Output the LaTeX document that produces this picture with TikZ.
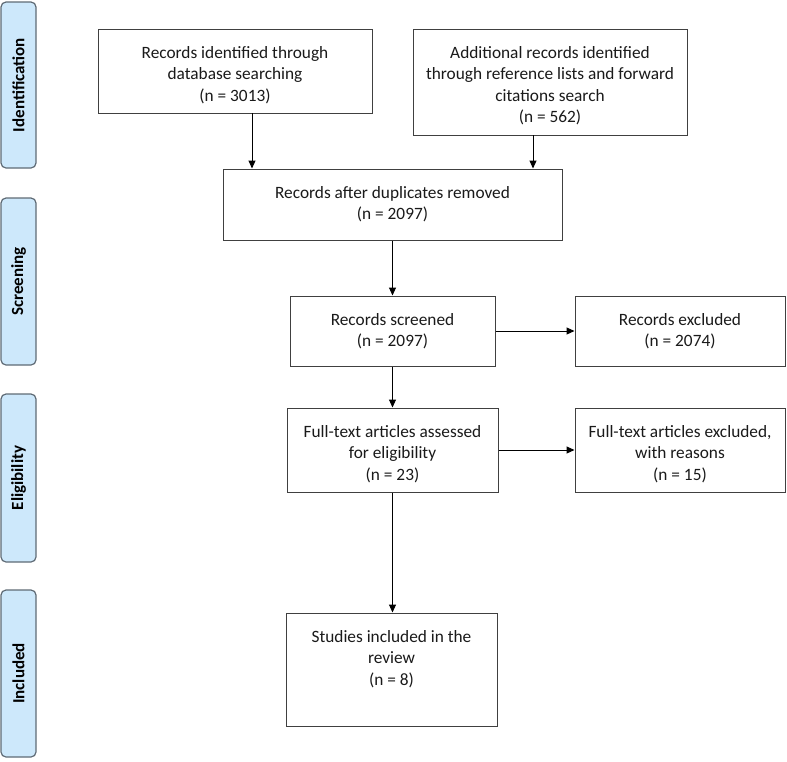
\documentclass[tikz,border=0pt]{standalone}
\usepackage{fontspec}
\setmainfont{Carlito}
\usetikzlibrary{arrows.meta}
\definecolor{boxline}{HTML}{404040}
\definecolor{txt}{HTML}{1A1A1A}
\definecolor{sidefill}{HTML}{CDE8FB}
\definecolor{sideline}{HTML}{5F6B75}
% top-aligned text block: width, box height, text
\newcommand\flowtext[3]{\parbox[c][\dimexpr#2-29.4pt\relax][t]{\dimexpr#1-4pt\relax}{\centering\strut #3}}
\tikzset{
  flowbox/.style={draw=boxline, line width=1pt, fill=white, rectangle,
    text=txt, inner sep=0pt, font=\fontsize{17.3}{21.3}\selectfont},
  sidebox/.style={draw=sideline, line width=1.2pt, fill=sidefill, rounded corners=5pt,
    rotate=90, inner sep=0pt, text=black,
    font=\fontsize{17}{20}\selectfont\bfseries},
  arr/.style={-{Triangle[length=8pt,width=7pt]}, line width=1pt, black}
}
\begin{document}
\begin{tikzpicture}[x=1pt,y=-1pt]
\useasboundingbox (0,0) rectangle (787,761);
% side labels
\node[sidebox, minimum width=166pt, minimum height=35pt] (s1) at (18.5,85) {Identification};
\node[sidebox, minimum width=167pt, minimum height=35pt] (s2) at (18.5,281.5) {Screening};
\node[sidebox, minimum width=168pt, minimum height=35pt] (s3) at (18.5,478) {Eligibility};
\node[sidebox, minimum width=167pt, minimum height=35pt] (s4) at (18.5,673.5) {Included};
% flow boxes
\node[flowbox, minimum width=274pt, minimum height=84pt] (A) at (235,71)
  {\flowtext{274pt}{84pt}{Records identified through\\database searching\\(n = 3013)}};
\node[flowbox, minimum width=274pt, minimum height=106pt] (B) at (550,82)
  {\flowtext{274pt}{106pt}{Additional records identified\\through reference lists and forward\\citations search\\(n = 562)}};
\node[flowbox, minimum width=339pt, minimum height=71pt] (C) at (392.5,204.5)
  {\flowtext{339pt}{71pt}{Records after duplicates removed\\(n = 2097)}};
\node[flowbox, minimum width=205pt, minimum height=70pt] (D) at (392.5,331)
  {\flowtext{205pt}{70pt}{Records screened\\(n = 2097)}};
\node[flowbox, minimum width=210pt, minimum height=70pt] (E) at (680,331)
  {\flowtext{210pt}{70pt}{Records excluded\\(n = 2074)}};
\node[flowbox, minimum width=211pt, minimum height=84pt] (F) at (392.5,450)
  {\flowtext{211pt}{84pt}{Full-text articles assessed\\for eligibility\\(n = 23)}};
\node[flowbox, minimum width=210pt, minimum height=84pt] (G) at (680,450)
  {\flowtext{210pt}{84pt}{Full-text articles excluded,\\with reasons\\(n = 15)}};
\node[flowbox, minimum width=211pt, minimum height=113pt] (H) at (391.5,669.5)
  {\flowtext{211pt}{113pt}{Studies included in the\\review\\(n = 8)}};
% connectors
\coordinate (a1) at (252,113);
\coordinate (b1) at (533,135);
\draw[arr] (a1) -- (a1 |- C.north);
\draw[arr] (b1) -- (b1 |- C.north);
\draw[arr] (C.south -| D.north) -- (D.north);
\draw[arr] (D.south) -- (F.north);
\draw[arr] (F.south) -- (F.south |- H.north);
\draw[arr] (D.east) -- (E.west);
\draw[arr] (F.east) -- (G.west);
\end{tikzpicture}
\end{document}
